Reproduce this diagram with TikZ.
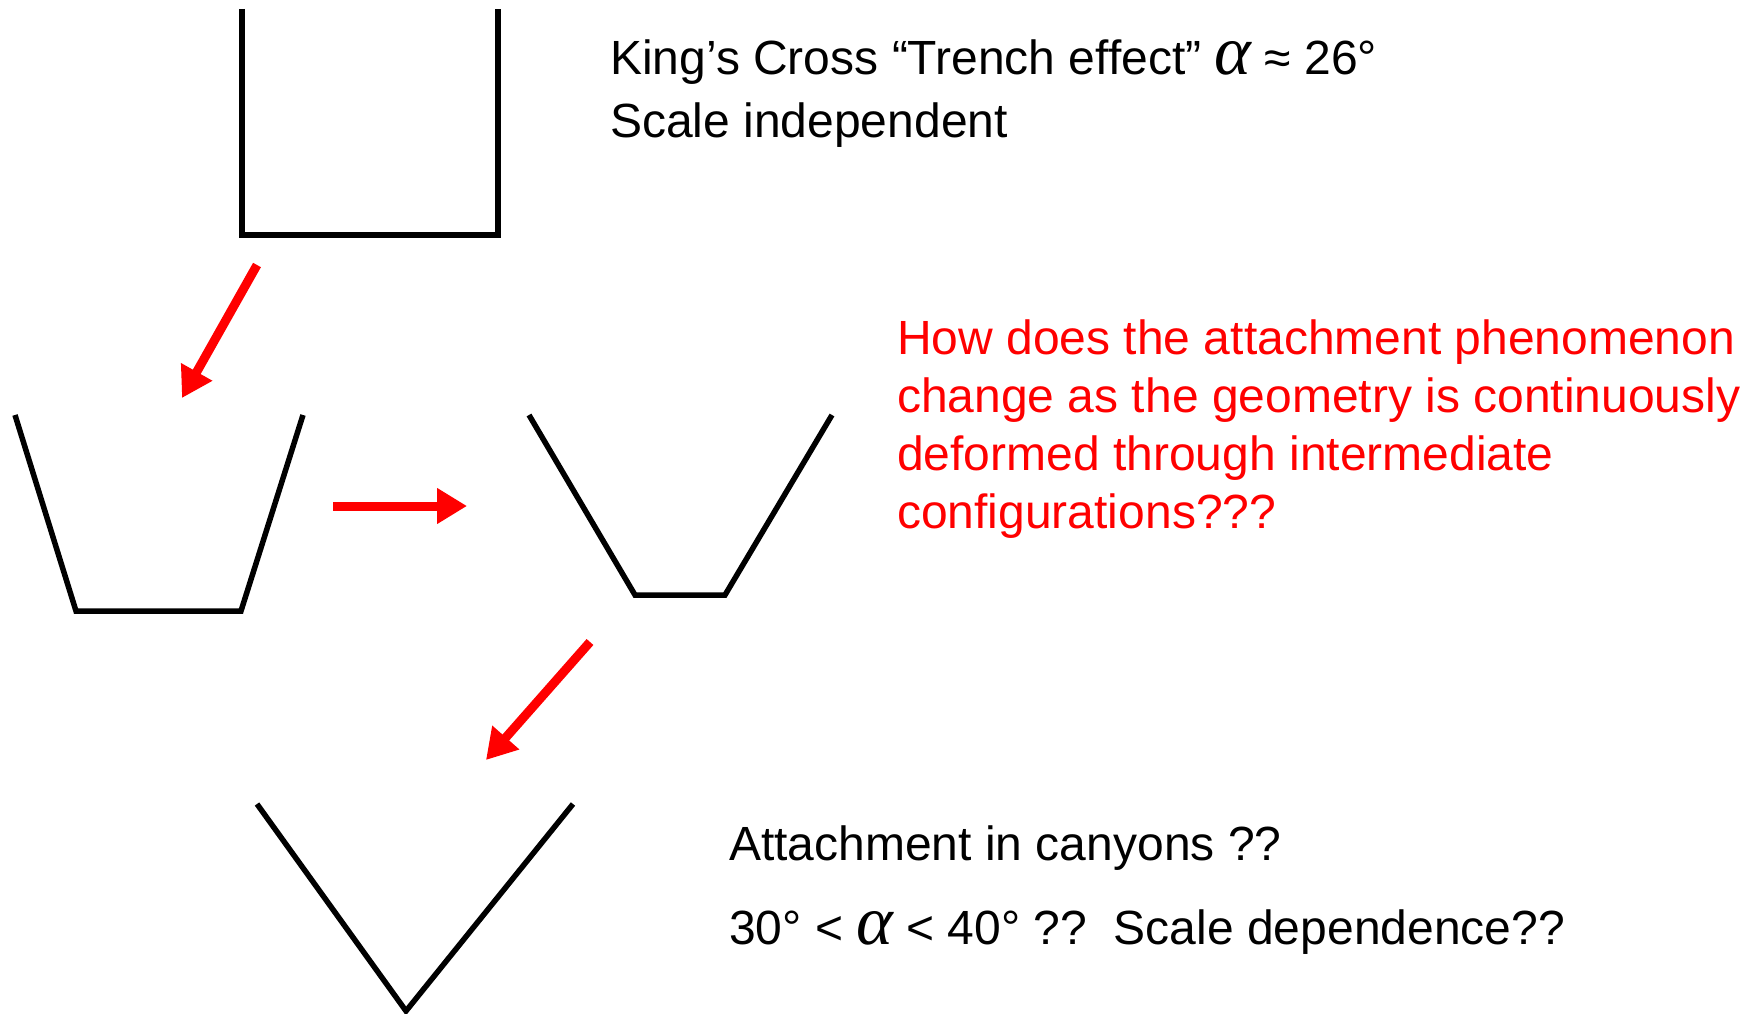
\documentclass[tikz,border=0pt]{standalone}
\usepackage{fontspec}
\setmainfont{Liberation Sans}
\newfontfamily\alphafont{Liberation Serif}
\usetikzlibrary{arrows.meta,positioning}

\newcommand{\galpha}{{\alphafont\itshape\fontsize{70}{70}\selectfont α}}

\begin{document}
\begin{tikzpicture}[x=1pt,y=-1pt,
  wall/.style={line width=5.5pt,black},
  push/.style={line width=9pt,red,-{Triangle[length=30pt,width=34pt]}},
  txt/.style={anchor=base west,inner sep=0pt,font=\fontsize{48}{58}\selectfont}]
\useasboundingbox (0,0) rectangle (1751,1014);
% the four channel shapes
\draw[wall] (242,9) -- (242,235) -- (498,235) -- (498,9);
\draw[wall] (15,415) -- (76,611) -- (241,611) -- (303,415);
\draw[wall] (529,415) -- (635,595) -- (725,595) -- (832,415);
\draw[wall] (257,804) -- (406,1011) -- (573,804);
% deformation arrows
\coordinate (a1s) at (257,265); \coordinate (a1e) at (182,398);
\coordinate (a2s) at (333,506); \coordinate (a2e) at (467,506);
\coordinate (a3s) at (590,642); \coordinate (a3e) at (486,760);
\draw[push] (a1s) -- (a1e);
\draw[push] (a2s) -- (a2e);
\draw[push] (a3s) -- (a3e);
% labels
\node[txt] (kc) at (610,75) {King’s Cross “Trench effect” \galpha\ ≈ 26°};
\node[txt] (si) at (610,138) {Scale independent};
\node[txt,red] (q1) at (897,354) {How does the attachment phenomenon};
\node[txt,red] (q2) at (897,412) {change as the geometry is continuously};
\node[txt,red] (q3) at (897,470) {deformed through intermediate};
\node[txt,red] (q4) at (897,528) {configurations???};
\node[txt] (ac) at (729,860) {Attachment in canyons ??};
\node[txt] (sd) at (729,944) {30° < \galpha\ < 40° ??\ \ Scale dependence??};
\end{tikzpicture}
\end{document}
